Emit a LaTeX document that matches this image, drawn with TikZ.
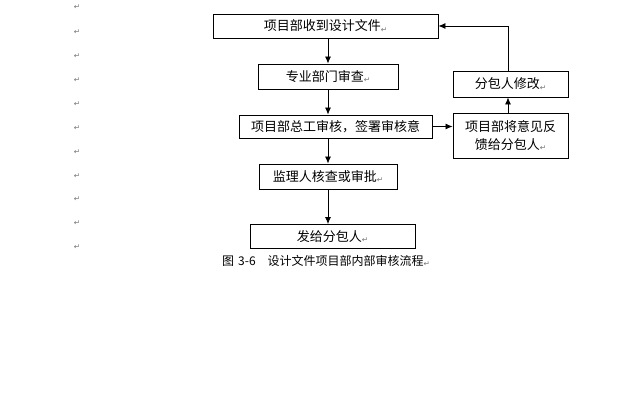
\documentclass[tikz,border=0pt]{standalone}
\usepackage{fontspec}
\setmainfont{Noto Sans CJK SC}
\newfontfamily\dvfont{DejaVu Sans}
\usetikzlibrary{arrows.meta}
\newcommand\parmark{{\dvfont\fontsize{7.5pt}{7.5pt}\selectfont\color{black!55}\raisebox{-1.5pt}{↵}}}
\begin{document}
\begin{tikzpicture}[x=1pt,y=-1pt,
  box/.style={draw,line width=0.9pt,inner sep=0pt,align=center,font=\fontsize{13pt}{18pt}\selectfont},
  arr/.style={line width=0.8pt,-{Latex[length=7pt,width=6pt]}},
  pmark/.style={inner sep=0pt}]
\useasboundingbox[fill=white] (0,0) rectangle (640,418);
% paragraph marks on the left
\foreach \yy [count=\i] in {7,32,56,80,104,128,152,176,199,223,247}
  \node[pmark] (pm\i) at (77,\yy) {\parmark};
% boxes
\node[box,minimum width=225pt,minimum height=24pt] (b1) at (325.5,26) {项目部收到设计文件\parmark};
\node[box,minimum width=140pt,minimum height=25pt] (b2) at (328,76.5) {专业部门审查\parmark};
\node[box,minimum width=193pt,minimum height=23pt] (b3) at (335.5,126.5) {项目部总工审核，签署审核意};
\node[box,minimum width=115pt,minimum height=45pt] (b4) at (510.5,135.5) {项目部将意见反\\馈给分包人\parmark};
\node[box,minimum width=115pt,minimum height=26pt] (b5) at (510.5,84) {分包人修改\parmark};
\node[box,minimum width=138pt,minimum height=25pt] (b6) at (328,176.5) {监理人核查或审批\parmark};
\node[box,minimum width=165pt,minimum height=24pt] (b7) at (332.5,236.5) {发给分包人\parmark};
\node[inner sep=0pt,anchor=west,font=\fontsize{12pt}{13pt}\selectfont] (cap) at (222,261) {图\hspace{4pt}3-6\hspace{12pt}设计文件项目部内部审核流程\parmark};
% column coordinates
\coordinate (col) at (328,0);
\coordinate (rcol) at (508,0);
% connectors
\draw[arr] (b1.south -| col) -- (b2.north -| col);
\draw[arr] (b2.south -| col) -- (b3.north -| col);
\draw[arr] (b3.south -| col) -- (b6.north -| col);
\draw[arr] (b6.south -| col) -- (b7.north -| col);
\draw[arr] (b3.east) -- (b3.east -| b4.west);
\draw[arr] (b4.north -| rcol) -- (b5.south -| rcol);
\draw[arr] (b5.north -| rcol) |- (b1.east);
\end{tikzpicture}
\end{document}
